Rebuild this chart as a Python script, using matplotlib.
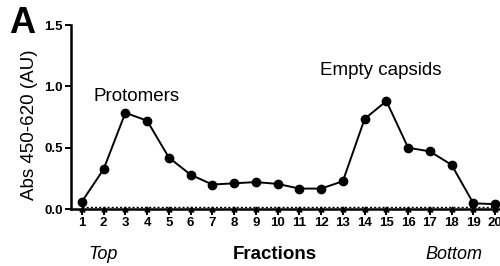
import matplotlib
matplotlib.use("Agg")
import matplotlib.pyplot as plt

plt.rcParams["font.family"] = ["Liberation Sans", "DejaVu Sans"]

fractions = list(range(1, 21))
absorbance = [0.06, 0.325, 0.785, 0.72, 0.42, 0.28, 0.2, 0.21, 0.22, 0.205,
              0.167, 0.167, 0.227, 0.735, 0.88, 0.5, 0.47, 0.36, 0.047, 0.04]
blank = [0.0] * 20
blank_line = [0.018] * 20
y_ticks = [0.0, 0.5, 1.0, 1.5]

fig = plt.figure(figsize=(5.0, 2.66), dpi=100)
ax = fig.add_axes([0.142, 0.214, 0.87, 0.692])

ax.plot(fractions, absorbance, color="black", lw=1.4, marker="o", ms=6, clip_on=False, zorder=3)
ax.plot(fractions, blank_line, color="black", lw=1.0, ls=(0, (1.5, 1.5)), zorder=2)
ax.plot(fractions, blank, color="black", lw=0, marker="^", ms=3.5, clip_on=False, zorder=4)

ax.set_xlim(0.5, 20.5)
ax.set_ylim(0, 1.5)
ax.set_xticks(fractions)
ax.set_yticks(y_ticks)
ax.set_yticklabels([f"{v:.1f}" for v in y_ticks])
for s in ["top", "right"]:
    ax.spines[s].set_visible(False)
for s in ["left", "bottom"]:
    ax.spines[s].set_linewidth(1.8)
ax.tick_params(axis="both", direction="out", length=4, width=1.4, labelsize=9.5, pad=2)
for lbl in ax.get_xticklabels() + ax.get_yticklabels():
    lbl.set_fontweight("bold")

ax.set_ylabel("Abs 450-620 (AU)", fontsize=13.5)
ax.yaxis.set_label_coords(-0.076, 0.457)

ax.text(3.5, 0.92, "Protomers", fontsize=13.5, ha="center", va="center")
ax.text(14.73, 1.13, "Empty capsids", fontsize=13.5, ha="center", va="center")

fig.text(0.207, 0.045, "Top", fontsize=13, style="italic", ha="center", va="center")
fig.text(0.55, 0.045, "Fractions", fontsize=13.5, fontweight="bold", ha="center", va="center")
fig.text(0.908, 0.045, "Bottom", fontsize=13, style="italic", ha="center", va="center")
fig.text(0.018, 0.91, "A", fontsize=26, fontweight="heavy", ha="left", va="center")

fig.savefig("out.png", dpi=100)
